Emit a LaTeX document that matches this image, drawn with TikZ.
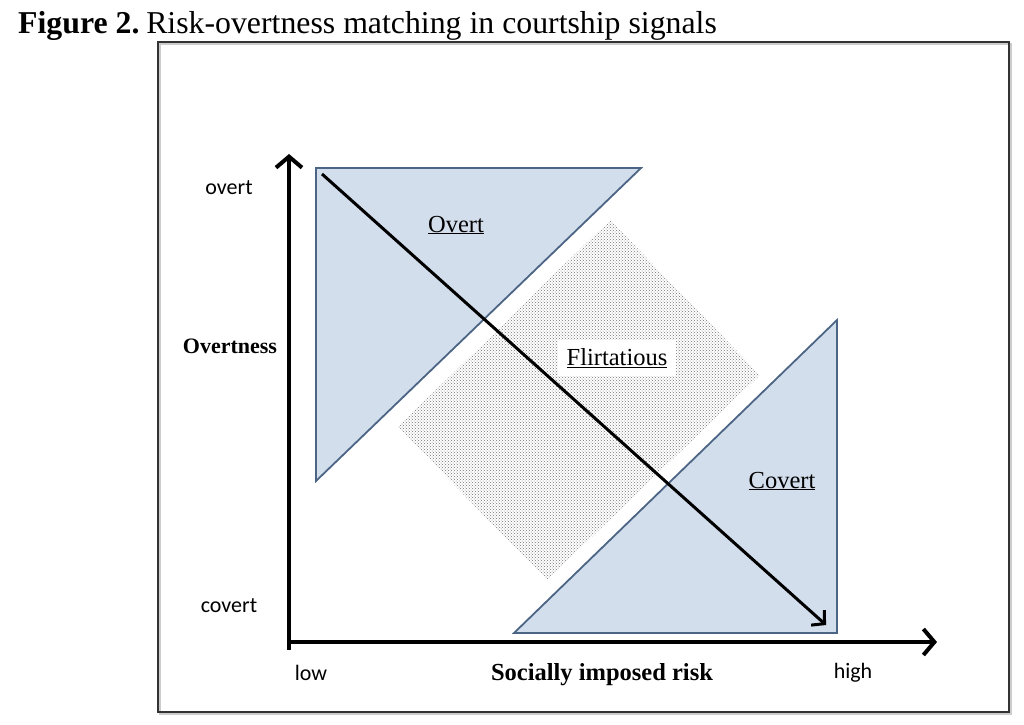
\documentclass[tikz,border=0pt]{standalone}
\usepackage{fontspec}
\setmainfont{Liberation Serif}
\newfontfamily\carl{Carlito}
\usetikzlibrary{arrows.meta,patterns}
\definecolor{trifill}{HTML}{D3DEED}
\definecolor{tridraw}{HTML}{4D6584}
\definecolor{framecol}{HTML}{333333}
\tikzset{
  tri/.style={fill=trifill,draw=tridraw,line width=1.8pt,line join=miter},
  axis/.style={line width=4pt,-{Straight Barb[length=11pt,width=26pt,line width=4pt]}},
  diag/.style={line width=3pt,draw=black,-{Straight Barb[length=9pt,width=20pt,line width=3pt]}},
  small/.style={font=\carl\fontsize{22}{26}\selectfont,inner sep=0pt},
  region/.style={font=\fontsize{24.5}{29}\selectfont,inner sep=0pt},
  axtitle/.style={font=\bfseries\fontsize{22}{26}\selectfont,inner sep=0pt}
}
\begin{document}
\begin{tikzpicture}[x=1pt,y=-1pt]
\useasboundingbox (0,0) rectangle (1024,724);
% title
\node[anchor=base west,inner sep=0pt,font=\fontsize{31.8}{36}\selectfont] (title) at (18,33) {\textbf{Figure 2.}\hspace{-0.12em} Risk-overtness matching in courtship signals};
% frame
\draw[gray!40,line width=2pt] (160,44) rectangle (1011,714);
\draw[framecol,line width=2pt] (158,42) rectangle (1009,712);
% flirtatious diamond
\path[pattern=crosshatch dots,pattern color=black!55] (610,220) -- (760,375) -- (547,580) -- (398,427) -- cycle;
% triangles
\path[tri] (316,168) -- (641,168) -- (316,481) -- cycle;
\path[tri] (837,320) -- (837,633) -- (514,633) -- cycle;
% diagonal arrow
\coordinate (d1) at (322,174);
\coordinate (d2) at (826,625);
\draw[diag] (d1) -- (d2);
% axes
\coordinate (origin) at (289,642);
\coordinate (ytop) at (289,154);
\coordinate (xend) at (937,642);
\coordinate (ybot) at (289,650);
\draw[line width=4pt] (ybot) -- (origin);
\draw[axis] (origin) -- (ytop);
\draw[axis] (287,642) -- (xend);
% region labels
\node[region] (overt) at (456,225) {\underline{Overt}};
\node[region,fill=white,inner xsep=9pt,inner ysep=8pt] (flirt) at (617,358) {\underline{Flirtatious}};
\node[region] (covert) at (782,481) {\underline{Covert}};
% axis labels
\node[small] (lovert) at (229,188) {overt};
\node[small] (lcovert) at (229,606) {covert};
\node[axtitle] (ytitle) at (230,346) {Overtness};
\node[small] (low) at (311,673) {low};
\node[small] (high) at (853,673) {high};
\node[axtitle,font=\bfseries\fontsize{24.5}{29}\selectfont] (xtitle) at (602,675) {Socially imposed risk};
\end{tikzpicture}
\end{document}
